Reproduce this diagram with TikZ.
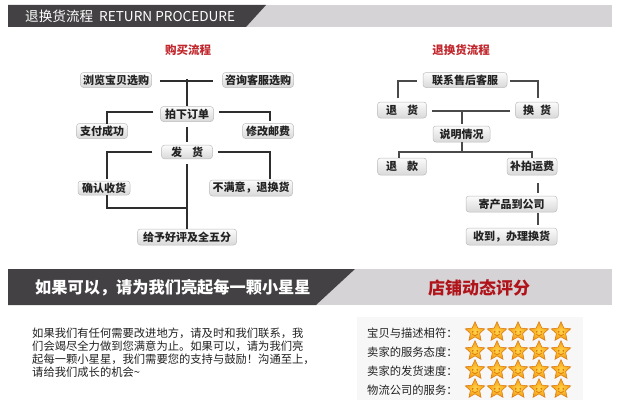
\documentclass[tikz,border=0pt]{standalone}
\usepackage{fontspec}
\setmainfont{Noto Sans CJK SC}
\usetikzlibrary{shapes.geometric,calc}
\definecolor{bardark}{HTML}{434143}
\definecolor{barlight}{HTML}{D5D3D5}
\definecolor{titlered}{HTML}{C1272D}
\definecolor{shopred}{HTML}{B0141A}
\definecolor{lndark}{HTML}{2E2E2E}
\definecolor{lnmid}{HTML}{4A4A4A}
\definecolor{nborder}{HTML}{BDBDBD}
\definecolor{ntop}{HTML}{FBFBFB}
\definecolor{nbot}{HTML}{D9D9D9}
\definecolor{txt}{HTML}{222222}
\definecolor{starin}{HTML}{FFD54A}
\definecolor{starout}{HTML}{F29A12}
\definecolor{staredge}{HTML}{D9740A}
\definecolor{boxbg}{HTML}{F7F7F7}
\begin{document}
\begin{tikzpicture}[x=1pt,y=-1pt,
  box/.style={draw=nborder, line width=0.5pt, rounded corners=3pt, top color=ntop, bottom color=nbot,
    minimum height=15pt, inner sep=1.5pt, font=\fontsize{11}{11}\selectfont\bfseries, text=txt},
  lline/.style={draw=lndark, line width=1.4pt},
  rline/.style={draw=lnmid, line width=1.1pt},
  ftitle/.style={font=\fontsize{11.5}{12}\selectfont\bfseries, text=titlered},
  para/.style={anchor=west, inner sep=0pt, font=\fontsize{11.3}{12}\selectfont, text=txt},
  rlabel/.style={anchor=west, inner sep=0pt, font=\fontsize{11.3}{12}\selectfont, text=txt},
  rstar/.pic={
    \node[star, star points=5, star point ratio=2.1, minimum size=20.5pt, inner sep=0pt,
      draw=staredge, line width=0.5pt, inner color=starin, outer color=starout] {};
    \fill[staredge] (-2.3,-0.2) circle (0.95);
    \fill[staredge] (2.3,-0.2) circle (0.95);
    \draw[staredge, line width=0.6pt, line cap=round] (-2.7,2) .. controls (0,4.4) .. (2.7,2);
  }]
\useasboundingbox (0,0) rectangle (620,412);
\fill[white] (0,0) rectangle (620,412);

% header bar
\fill[barlight] (8,5) rectangle (612,27);
\fill[bardark] (8,5) -- (266,5) -- (246,27) -- (8,27) -- cycle;
\node[anchor=west, inner sep=0pt, text=white, font=\fontsize{13.6}{14}\selectfont] (hdr) at (25,16.5) {退换货流程\hspace{6pt}RETURN PROCEDURE};

% left flow
\node[ftitle] (lt) at (188,50) {购买流程};
\node[box, minimum width=71pt] (a1) at (116,80) {浏览宝贝选购};
\node[box, minimum width=71pt] (a2) at (258,80) {咨询客服选购};
\node[box, minimum width=53pt] (a3) at (187,114) {拍下订单};
\node[box, minimum width=51pt] (a4) at (102,131) {支付成功};
\node[box, minimum width=51pt] (a5) at (268,131) {修改邮费};
\node[box, minimum width=51pt, minimum height=13pt] (a6) at (187,152) {发\hspace{10pt}货};
\node[box, minimum width=52pt, minimum height=14pt] (a7) at (104,188) {确认收货};
\node[box, minimum width=83pt, minimum height=16pt] (a8) at (251,188) {不满意，退换货};
\node[box, minimum width=99pt, minimum height=16pt] (a9) at (187,237) {给予好评及全五分};

\coordinate (j1) at (187,79);
\coordinate (c1) at (187,208);
\draw[lline] ($(a1.east)+(8,1)$) -- ($(a2.west)+(-9,1)$);
\draw[lline] (j1) -- (a3.north);
\draw[lline] ($(a3.west)+(-7,-2)$) -| ([xshift=5pt,yshift=-1pt]a4.north);
\draw[lline] ($(a3.east)+(5,-2)$) -| ([xshift=2pt,yshift=2pt]a5.north);
\draw[lline] ([yshift=-5pt]a3.south) -- ([yshift=3pt]a6.north);
\draw[lline] ($(a6.west)+(-9,0)$) -| ([xshift=3pt,yshift=2pt]a7.north);
\draw[lline] ($(a6.east)+(5,0)$) -| ([xshift=19pt,yshift=1pt]a8.north);
\draw[lline] ([xshift=3pt]a7.south) |- (c1);
\draw[lline] ([yshift=-5pt]a6.south) -- (a9.north);

% right flow
\node[ftitle] (rt) at (461,50) {退换货流程};
\node[box, minimum width=84pt] (b1) at (465,80) {联系售后客服};
\node[box, minimum width=49pt, minimum height=16pt] (b2) at (402,110) {退\hspace{10pt}货};
\node[box, minimum width=43pt, minimum height=16pt] (b3) at (537,110) {换\hspace{6pt}货};
\node[box, minimum width=57pt, minimum height=16pt] (b4) at (461.5,134) {说明情况};
\node[box, minimum width=49pt, minimum height=17pt] (b5) at (402,166.5) {退\hspace{10pt}款};
\node[box, minimum width=50pt, minimum height=17pt] (b6) at (532,166.5) {补拍运费};
\node[box, minimum width=91pt, minimum height=16pt] (b7) at (511.5,204) {寄产品到公司};
\node[box, minimum width=91pt, minimum height=17pt] (b8) at (511.5,236.5) {收到，办理换货};

\coordinate (r1) at (462,111);
\coordinate (r2) at (462,152);
\draw[rline] ($(b1.west)+(-6,1)$) -| ([xshift=-4pt,yshift=4pt]b2.north);
\draw[rline] ($(b1.east)+(3,1)$) -| ([xshift=1pt,yshift=4pt]b3.north);
\draw[rline] ($(b2.east)+(5,1)$) -- ($(b3.west)+(-5,1)$);
\draw[rline] (r1) -- ([xshift=0.5pt,yshift=2pt]b4.north);
\draw[rline] ([xshift=0.5pt]b4.south) -- (r2);
\draw[rline] ([xshift=-3pt]b5.north) |- (r2) -| (b6.north);
\draw[rline] ([xshift=6pt,yshift=-8pt]b6.south) -- ([xshift=26.5pt,yshift=3pt]b7.north);
\draw[rline] ([xshift=26.5pt,yshift=-1pt]b7.south) -- ([xshift=26.5pt,yshift=3pt]b8.north);

% bottom bar
\fill[barlight] (8,269) rectangle (612,305);
\fill[bardark] (8,269) -- (355,269) -- (316,305) -- (8,305) -- cycle;
\node[anchor=west, inner sep=0pt, text=white, font=\fontsize{16.2}{17}\selectfont\bfseries] (bt) at (35,288) {如果可以，请为我们亮起每一颗小星星};
\node[inner sep=0pt, text=shopred, font=\fontsize{17}{17}\selectfont\bfseries] (st) at (479,288) {店铺动态评分};

% paragraph
\node[para] (p1) at (32,333) {如果我们有任何需要改进地方，请及时和我们联系，我};
\node[para] (p2) at (32,346) {们会竭尽全力做到您满意为止。如果可以，请为我们亮};
\node[para] (p3) at (32,359) {起每一颗小星星，我们需要您的支持与鼓励！沟通至上，};
\node[para] (p4) at (32,372) {请给我们成长的机会\textasciitilde};

% ratings
\fill[boxbg] (357,317) rectangle (583,400);
\node[rlabel] (l1) at (367,333) {宝贝与描述相符：};
\node[rlabel] (l2) at (367,352) {卖家的服务态度：};
\node[rlabel] (l3) at (367,371) {卖家的发货速度：};
\node[rlabel] (l4) at (367,390) {物流公司的服务：};
\foreach \yy in {332,351,370,389}{
  \foreach \xx in {475,497,518,539,561}{
    \pic at (\xx,\yy) {rstar};
  }
}
\end{tikzpicture}
\end{document}
